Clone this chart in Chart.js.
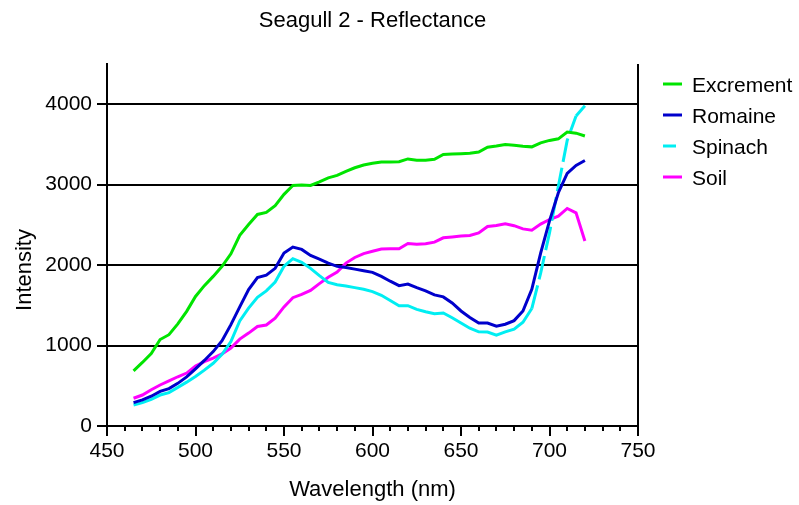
<!DOCTYPE html>
<html>
<head>
<meta charset="utf-8">
<script src="https://cdn.jsdelivr.net/npm/chart.js@4.4.0/dist/chart.umd.min.js"></script>
<style>
html,body{margin:0;padding:0;background:#fff;}
#wrap{width:799px;height:505px;position:relative;}
canvas{display:block;}
</style>
</head>
<body>
<div id="wrap"><canvas id="c" width="799" height="505"></canvas></div>
<script>
// ---- data ----
const wavelengths = [465,470,475,480,485,490,495,500,505,510,515,520,525,530,535,540,545,550,555,560,565,570,575,580,585,590,595,600,605,610,615,620,625,630,635,640,645,650,655,660,665,670,675,680,685,690,695,700,705,710,715,720];
const excrement = [685,790,900,1075,1135,1270,1425,1610,1745,1860,1985,2140,2370,2505,2630,2655,2740,2880,2990,2995,2990,3035,3085,3115,3165,3210,3245,3265,3282,3282,3285,3320,3305,3305,3315,3375,3380,3385,3390,3405,3465,3480,3500,3490,3478,3470,3520,3550,3570,3655,3640,3605];
const romaine = [290,325,370,430,465,530,610,710,815,925,1060,1260,1480,1695,1845,1875,1960,2150,2225,2195,2120,2075,2025,1985,1970,1950,1930,1910,1860,1800,1745,1765,1720,1680,1630,1605,1530,1430,1350,1280,1280,1240,1265,1310,1430,1700,2150,2550,2900,3140,3240,3300];
const spinach = [262,290,332,385,415,480,545,615,695,780,890,1050,1305,1465,1600,1680,1790,1985,2080,2035,1960,1870,1785,1755,1740,1720,1700,1670,1625,1560,1495,1495,1450,1420,1395,1405,1345,1280,1215,1170,1168,1130,1170,1205,1290,1460,1900,2400,2980,3550,3854,3980];
const soil = [345,385,450,510,560,612,658,745,800,843,897,968,1080,1155,1237,1255,1340,1480,1595,1635,1686,1770,1850,1915,2025,2095,2143,2172,2200,2202,2202,2268,2258,2265,2285,2339,2350,2362,2368,2400,2480,2492,2515,2490,2450,2434,2510,2567,2608,2704,2650,2300];
const seriesNames = ['Excrement','Romaine','Spinach','Soil'];
const seriesColors = ['#00e400','#0000cc','#00eef2','#ff00ff'];
const xTickLabels = [450,500,550,600,650,700,750];
const yTickLabels = [0,1000,2000,3000,4000];
const titleText = 'Seagull 2 - Reflectance';
const xTitle = 'Wavelength (nm)';
const yTitle = 'Intensity';

const FONT = "'Liberation Sans', Arial, Helvetica, sans-serif";

function pts(vals){ return wavelengths.map((w,i)=>({x:w,y:vals[i]})); }

const seriesValues = [excrement, romaine, spinach, soil];
const datasets = seriesNames.map((name,i)=>{
  const ds = {
    label: name,
    data: pts(seriesValues[i]),
    borderColor: seriesColors[i],
    backgroundColor: seriesColors[i],
    borderWidth: 3,
    pointRadius: 0,
    pointHoverRadius: 0,
    tension: 0,
    fill: false
  };
  if (name === 'Spinach') {
    ds.segment = {
      borderDash: ctx => (ctx.p0.parsed.x >= 690 && ctx.p1.parsed.x <= 715) ? [24,6] : undefined
    };
  }
  return ds;
});

const framePlugin = {
  id: 'frame',
  afterDraw(chart){
    const {ctx, chartArea:a, scales:{x}} = chart;
    ctx.save();
    ctx.strokeStyle = '#000';
    ctx.lineWidth = 2;
    ctx.beginPath();
    ctx.moveTo(a.right, a.top); ctx.lineTo(a.right, a.bottom);
    ctx.stroke();
    // minor ticks on x axis every 10 nm
    ctx.beginPath();
    for (let v = x.min; v <= x.max; v += 10) {
      if (xTickLabels.includes(v)) continue;
      const px = Math.round(x.getPixelForValue(v));
      ctx.moveTo(px, a.bottom); ctx.lineTo(px, a.bottom + 5);
    }
    ctx.stroke();
    // y axis title
    ctx.save();
    ctx.translate(25, 270);
    ctx.rotate(-Math.PI/2);
    ctx.font = '22px ' + FONT;
    ctx.fillStyle = '#000';
    ctx.textAlign = 'center';
    ctx.textBaseline = 'middle';
    ctx.fillText(yTitle, 0, 0);
    ctx.restore();
    // legend
    ctx.font = '21px ' + FONT;
    ctx.fillStyle = '#000';
    ctx.textBaseline = 'alphabetic';
    ctx.textAlign = 'left';
    chart.data.datasets.forEach((ds,i)=>{
      const y = 84 + i*31;
      ctx.strokeStyle = ds.borderColor;
      ctx.lineWidth = 3;
      ctx.beginPath();
      ctx.moveTo(663, y);
      ctx.lineTo(ds.label === 'Spinach' ? 676 : 682, y);
      ctx.stroke();
      ctx.fillText(ds.label, 692, y + 8);
    });
    ctx.restore();
  }
};

new Chart(document.getElementById('c'), {
  type: 'line',
  data: { datasets },
  plugins: [framePlugin],
  options: {
    responsive: false,
    devicePixelRatio: 1,
    animation: false,
    layout: { padding: { left: 0, right: 161, top: 0, bottom: 0 } },
    plugins: {
      legend: { display: false },
      tooltip: { enabled: false },
      title: {
        display: true,
        fullSize: false,
        text: titleText,
        color: '#000',
        font: { family: FONT, size: 22, weight: 'normal' },
        padding: { top: 8, bottom: 29.6 }
      }
    },
    scales: {
      x: {
        type: 'linear',
        min: 450, max: 750,
        afterFit(s){ s.height = 79; },
        afterBuildTicks(s){ s.ticks = xTickLabels.map(v=>({value:v})); },
        ticks: {
          autoSkip: false,
          maxRotation: 0,
          color: '#000',
          padding: 3,
          font: { family: FONT, size: 21 }
        },
        grid: { drawOnChartArea: false, color: '#000', tickColor: '#000', tickLength: 10, lineWidth: 2 },
        border: { color: '#000', width: 2 },
        title: {
          display: true, text: xTitle, color: '#000',
          font: { family: FONT, size: 22 },
          padding: { top: 0, bottom: 2 }
        }
      },
      y: {
        type: 'linear',
        min: 0, max: 4500,
        afterFit(s){ s.width = 107; },
        afterBuildTicks(s){
          const t = [];
          for (let v = 0; v <= 4500; v += 500) t.push({value:v});
          s.ticks = t;
        },
        ticks: {
          autoSkip: false,
          color: '#000',
          padding: 5,
          font: { family: FONT, size: 21 },
          callback: v => yTickLabels.includes(v) ? String(v) : null
        },
        grid: {
          drawOnChartArea: true,
          color: c => (c.tick && (c.tick.value % 1000 === 0 || c.tick.value === 4500)) ? '#000' : 'rgba(0,0,0,0)',
          tickColor: '#000',
          tickLength: 10,
          lineWidth: 2
        },
        border: { color: '#000', width: 2 },
        title: { display: false }
      }
    }
  }
});
</script>
</body>
</html>
